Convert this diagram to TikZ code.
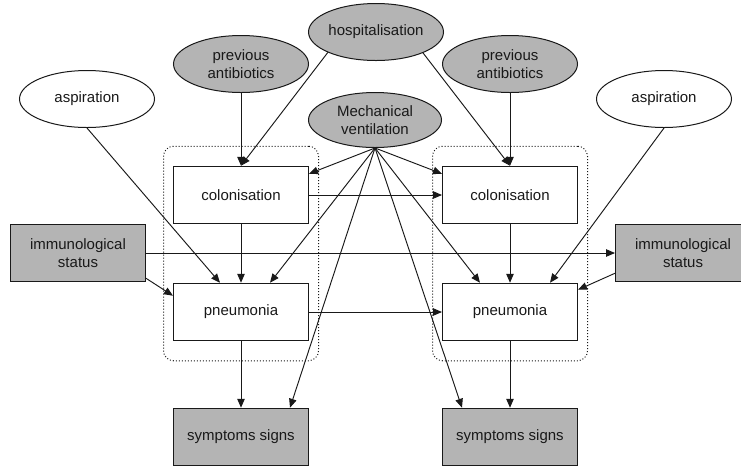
\documentclass[tikz,border=0pt]{standalone}
\usepackage{fontspec}
\setmainfont{Liberation Sans}
\usetikzlibrary{shapes.geometric,arrows.meta,fit}
\definecolor{fillgray}{RGB}{180,180,180}
\definecolor{ink}{RGB}{25,25,25}
\begin{document}
\begin{tikzpicture}[x=1pt,y=-1pt,
  every node/.style={font=\fontsize{15}{18}\selectfont, align=center, inner sep=0pt, text=ink},
  ell/.style={ellipse, draw=ink, line width=1pt, minimum width=135pt, minimum height=57pt},
  gell/.style={ell, fill=fillgray},
  box/.style={rectangle, draw=ink, line width=1pt, minimum width=135pt, minimum height=57.5pt},
  gbox/.style={box, fill=fillgray},
  arr/.style={draw=ink, line width=0.95pt, -{Triangle[length=9pt,width=7.5pt]}},
  grp/.style={draw=ink, dotted, line width=1pt, rounded corners=10pt}
]
\useasboundingbox (0,0) rectangle (741,467);
\clip (0,0) rectangle (741,467);

% boxes
\node[box] (colL) at (241,195) {colonisation};
\node[box] (colR) at (510,195) {colonisation};
\node[box] (pnL) at (241,312) {pneumonia};
\node[box] (pnR) at (510,312) {pneumonia};
\node[grp, fit=(colL)(pnL), inner xsep=9.5pt, inner ysep=19.5pt] (gL) {};
\node[grp, fit=(colR)(pnR), inner xsep=9.5pt, inner ysep=19.5pt] (gR) {};
\node[gbox] (symL) at (241,437) {symptoms signs};
\node[gbox] (symR) at (510,437) {symptoms signs};
\node[gbox] (imL) at (78,253) {immunological\\status};
\node[gbox] (imR) at (683,253) {immunological\\status};

% ellipses
\node[gell] (hosp) at (376,32) {hospitalisation};
\node[gell] (paL) at (241,64) {previous\\antibiotics};
\node[gell] (paR) at (510,64) {previous\\antibiotics};
\node[gell, minimum width=133pt, minimum height=55pt] (mv) at (375,120) {Mechanical\\ventilation};
\node[ell] (asL) at (87,99) {aspiration};
\node[ell] (asR) at (664,99) {aspiration};

% connectors
\draw[arr] (paL.south) -- (colL.north);
\draw[arr] (paR.south) -- (colR.north);
\draw[arr] (hosp.203) -- (colL.north);
\draw[arr] (hosp.-24) -- (colR.north);
\draw[arr] (colL.south) -- (pnL.north);
\draw[arr] (colR.south) -- (pnR.north);
\draw[arr] (pnL.south) -- (symL.north);
\draw[arr] (pnR.south) -- (symR.north);
\draw[arr] (colL.east) -- (colR.west);
\draw[arr] (pnL.east) -- (pnR.west);
\draw[arr] (imL.east) -- (imR.west);
\draw[arr] ([yshift=4pt]imL.south east) -- ([yshift=-13pt]pnL.north west);
\draw[arr] ([yshift=9pt]imR.south west) -- ([yshift=-7pt]pnR.north east);
\draw[arr] (asL.south) -- ([xshift=-21pt]pnL.north);
\draw[arr] (asR.south) -- ([xshift=40pt]pnR.north);
\draw[arr] (mv.south) -- ([yshift=-8pt]colL.north east);
\draw[arr] (mv.south) -- ([yshift=-8pt]colR.north west);
\draw[arr] (mv.south) -- ([xshift=29pt]pnL.north);
\draw[arr] (mv.south) -- ([xshift=-30pt]pnR.north);
\draw[arr] (mv.south) -- ([xshift=49pt]symL.north);
\draw[arr] (mv.south) -- ([xshift=-48pt]symR.north);
\end{tikzpicture}
\end{document}
